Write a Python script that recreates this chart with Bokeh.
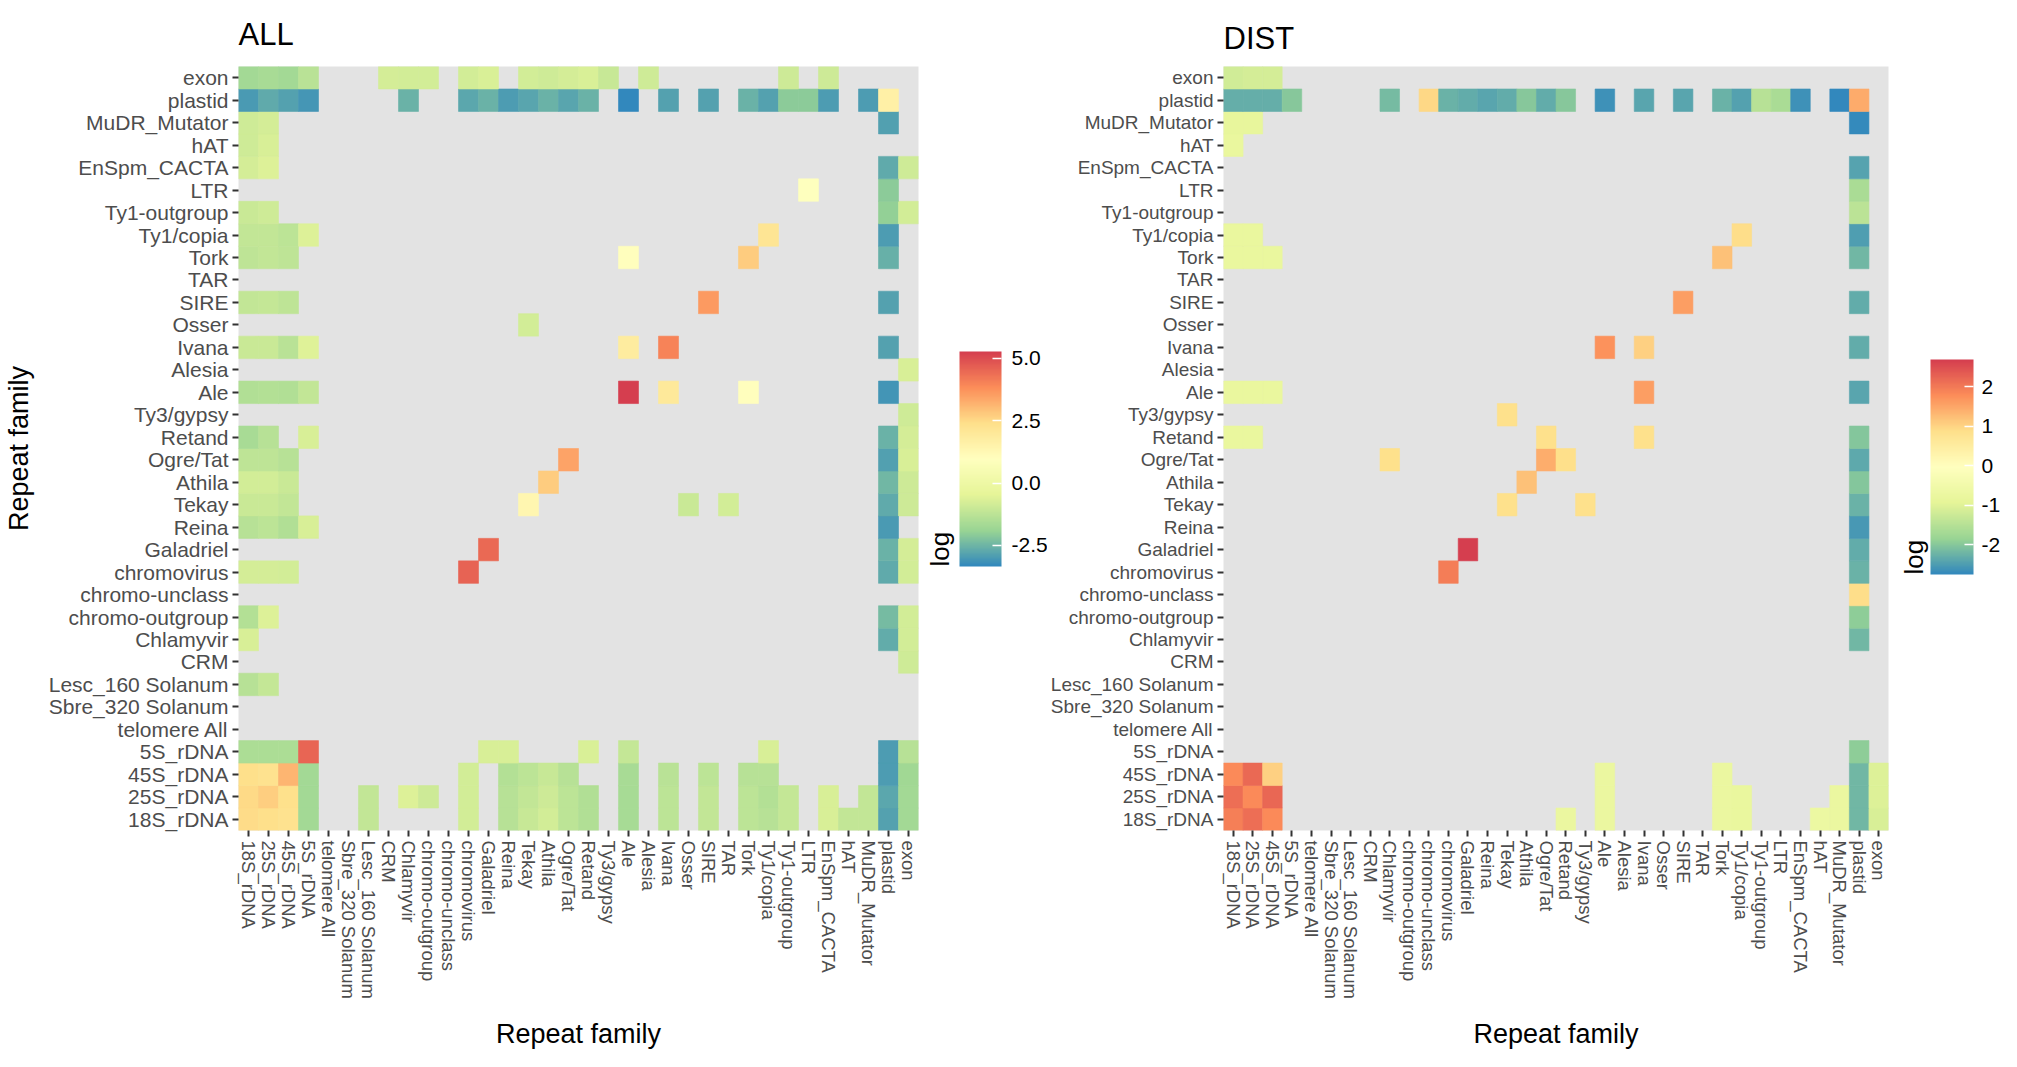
from bokeh.plotting import figure
from bokeh.models import (FactorRange, LinearColorMapper, ColorBar, FixedTicker,
                          PrintfTickFormatter, ColumnDataSource)
from bokeh.layouts import row
from bokeh.transform import transform
from bokeh.embed import file_html
from bokeh.resources import INLINE

# ---------------- data ----------------
families = ["18S_rDNA", "25S_rDNA", "45S_rDNA", "5S_rDNA", "telomere All",
            "Sbre_320 Solanum", "Lesc_160 Solanum", "CRM", "Chlamyvir",
            "chromo-outgroup", "chromo-unclass", "chromovirus", "Galadriel",
            "Reina", "Tekay", "Athila", "Ogre/Tat", "Retand", "Ty3/gypsy", "Ale",
            "Alesia", "Ivana", "Osser", "SIRE", "TAR", "Tork", "Ty1/copia",
            "Ty1-outgroup", "LTR", "EnSpm_CACTA", "hAT", "MuDR_Mutator",
            "plastid", "exon"]

# ALL panel: for each row (family index, bottom to top) the filled columns and log values
all_cols = [
    [0, 1, 2, 3, 6, 11, 13, 14, 15, 16, 17, 19, 21, 23, 25, 26, 27, 29, 30, 31, 32, 33],
    [0, 1, 2, 3, 6, 8, 9, 11, 13, 14, 15, 16, 17, 19, 21, 23, 25, 26, 27, 29, 31, 32, 33],
    [0, 1, 2, 3, 11, 13, 14, 15, 16, 19, 21, 23, 25, 26, 32, 33],
    [0, 1, 2, 3, 12, 13, 17, 19, 26, 32, 33],
    [],
    [],
    [0, 1],
    [33],
    [0, 32, 33],
    [0, 1, 32, 33],
    [],
    [0, 1, 2, 11, 32, 33],
    [12, 32, 33],
    [0, 1, 2, 3, 32],
    [0, 1, 2, 14, 22, 24, 32, 33],
    [0, 1, 2, 15, 32, 33],
    [0, 1, 2, 16, 32, 33],
    [0, 1, 3, 32, 33],
    [33],
    [0, 1, 2, 3, 19, 21, 25, 32],
    [33],
    [0, 1, 2, 3, 19, 21, 32],
    [14],
    [0, 1, 2, 23, 32],
    [],
    [0, 1, 2, 19, 25, 32],
    [0, 1, 2, 3, 26, 32],
    [0, 1, 32, 33],
    [28, 32],
    [0, 1, 32, 33],
    [0, 1],
    [0, 1, 32],
    [0, 1, 2, 3, 8, 11, 12, 13, 14, 15, 16, 17, 19, 21, 23, 25, 26, 27, 28, 29, 31, 32],
    [0, 1, 2, 3, 7, 8, 9, 11, 12, 14, 15, 16, 17, 18, 20, 27, 29],
]
all_log = [
    [2.45, 2.4, 2.3, -1.7, -1.15, -0.85, -1.35, -1.05, -0.85, -1.25, -1.45, -1.65, -1.25, -1.15, -1.25, -1.35, -1.1, -0.75, -1.15, -1.15, -2.85, -1.7],
    [2.5, 2.7, 2.35, -1.7, -1.15, -0.65, -0.95, -0.85, -1.35, -1.15, -0.95, -1.25, -1.45, -1.65, -1.25, -1.15, -1.25, -1.4, -1.1, -0.75, -1.15, -2.75, -1.7],
    [2.4, 2.3, 3.15, -1.7, -0.85, -1.4, -1.25, -1.05, -1.35, -1.6, -1.3, -1.25, -1.35, -1.35, -2.95, -1.75],
    [-1.55, -1.55, -1.55, 4.55, -0.75, -0.75, -0.7, -1.1, -0.75, -2.95, -1.35],
    [],
    [],
    [-1.35, -1.1],
    [-0.9],
    [-0.75, -2.65, -0.85],
    [-1.4, -0.65, -2.4, -0.85],
    [],
    [-0.8, -0.8, -0.85, 4.6, -2.7, -0.85],
    [4.5, -2.55, -0.8],
    [-1.35, -1.25, -1.45, -0.75, -3.0],
    [-1.0, -1.0, -1.15, 1.4, -1.0, -0.85, -2.7, -0.95],
    [-0.85, -0.85, -1.0, 2.75, -2.45, -0.95],
    [-1.2, -1.2, -1.35, 3.45, -2.9, -0.75],
    [-1.6, -1.35, -0.75, -2.55, -0.8],
    [-0.9],
    [-1.45, -1.4, -1.45, -1.15, 5.28, 2.0, 1.0, -3.1],
    [-0.75],
    [-1.0, -1.0, -1.3, -0.6, 1.85, 4.0, -2.85],
    [-0.85],
    [-1.15, -1.1, -1.2, 3.6, -2.85],
    [],
    [-1.2, -1.15, -1.2, 1.0, 2.75, -2.6],
    [-1.15, -1.15, -1.25, -0.65, 2.15, -2.95],
    [-1.0, -0.9, -2.0, -0.85],
    [0.9, -2.1],
    [-0.8, -0.65, -2.7, -0.9],
    [-0.9, -0.75],
    [-0.9, -0.8, -2.9],
    [-3.0, -2.7, -2.85, -3.05, -2.55, -2.75, -2.55, -2.95, -2.8, -2.55, -2.8, -2.55, -3.35, -2.85, -2.85, -2.55, -2.85, -2.1, -2.1, -2.95, -2.95, 1.65],
    [-1.7, -1.6, -1.7, -1.3, -0.8, -0.85, -0.85, -0.85, -0.7, -0.85, -0.9, -0.8, -0.7, -1.05, -0.9, -0.95, -0.95],
]

# DIST panel
dist_cols = [
    [0, 1, 2, 17, 19, 25, 26, 30, 31, 32, 33],
    [0, 1, 2, 19, 25, 26, 31, 32, 33],
    [0, 1, 2, 19, 25, 32, 33],
    [32],
    [],
    [],
    [],
    [],
    [32],
    [32],
    [32],
    [11, 32],
    [12, 32],
    [32],
    [14, 18, 32],
    [15, 32],
    [8, 16, 17, 32],
    [0, 1, 16, 21, 32],
    [14],
    [0, 1, 2, 21, 32],
    [],
    [19, 21, 32],
    [],
    [23, 32],
    [],
    [0, 1, 2, 25, 32],
    [0, 1, 26, 32],
    [32],
    [32],
    [32],
    [0],
    [0, 1, 32],
    [0, 1, 2, 3, 8, 10, 11, 12, 13, 14, 15, 16, 17, 19, 21, 23, 25, 26, 27, 28, 29, 31, 32],
    [0, 1, 2],
]
dist_log = [
    [1.94, 2.13, 1.8, -0.75, -0.75, -0.75, -0.8, -0.7, -0.75, -2.2, -1.1],
    [2.13, 1.8, 2.22, -0.75, -0.75, -0.8, -0.75, -2.2, -1.05],
    [1.8, 2.18, 1.05, -0.75, -0.75, -2.2, -1.05],
    [-1.95],
    [],
    [],
    [],
    [],
    [-2.2],
    [-1.95],
    [0.9],
    [1.95, -2.27],
    [2.69, -2.33],
    [-2.55],
    [0.85, 0.85, -2.27],
    [1.2, -2.03],
    [0.85, 1.42, 0.88, -2.37],
    [-0.8, -0.8, 0.85, 0.85, -2.03],
    [0.85],
    [-0.8, -0.8, -0.8, 1.6, -2.41],
    [],
    [1.72, 1.05, -2.33],
    [],
    [1.6, -2.33],
    [],
    [-0.8, -0.8, -0.8, 1.2, -2.2],
    [-0.8, -0.8, 0.9, -2.5],
    [-1.45],
    [-1.65],
    [-2.42],
    [-0.8],
    [-0.85, -0.85, -2.72],
    [-2.3, -2.3, -2.3, -2.0, -2.15, 0.95, -2.27, -2.33, -2.4, -2.33, -2.0, -2.33, -2.0, -2.65, -2.4, -2.4, -2.25, -2.45, -1.5, -1.65, -2.65, -2.76, 1.45],
    [-1.2, -1.15, -1.15],
]

all_ticks = [-2.5, 0.0, 2.5, 5.0]
dist_ticks = [-2, -1, 0, 1, 2]

# ---------------- styling ----------------
FONT = "Liberation Sans"
NA_GREY = "#E3E3E3"
spectral = ["#3288BD", "#99D594", "#E6F598", "#FFFFBF", "#FEE08B", "#FC8D59", "#D53E4F"]


def lerp_palette(anchors, n=256):
    rgb = [tuple(int(c[i:i + 2], 16) for i in (1, 3, 5)) for c in anchors]
    out = []
    for k in range(n):
        t = k / (n - 1) * (len(rgb) - 1)
        i = min(int(t), len(rgb) - 2)
        f = t - i
        out.append("#%02x%02x%02x" % tuple(
            int(round(rgb[i][j] + (rgb[i + 1][j] - rgb[i][j]) * f)) for j in range(3)))
    return out


PALETTE = lerp_palette(spectral)


def flatten(cols, vals):
    xs, ys, vs = [], [], []
    assert len(cols) == len(families) and len(vals) == len(families)
    for r, (cc, vv) in enumerate(zip(cols, vals)):
        assert len(cc) == len(vv), (families[r], len(cc), len(vv))
        for c, v in zip(cc, vv):
            xs.append(families[c])
            ys.append(families[r])
            vs.append(v)
    return xs, ys, vs


def make_panel(title, cols, vals, ticks, fmt, width, height, b_left, b_right, b_top,
               b_bottom, title_standoff, ylab_size, show_ytitle, cb):
    xs, ys, vs = flatten(cols, vals)
    mapper = LinearColorMapper(palette=PALETTE, low=min(vs), high=max(vs))
    p = figure(width=width, height=height, output_backend="svg", toolbar_location=None,
               x_range=FactorRange(factors=families), y_range=FactorRange(factors=families),
               min_border_left=b_left, min_border_right=b_right,
               min_border_top=b_top, min_border_bottom=b_bottom)
    p.background_fill_color = NA_GREY
    p.border_fill_color = "white"
    p.outline_line_color = None
    p.grid.grid_line_color = None

    src = ColumnDataSource(dict(x=xs, y=ys, v=vs))
    p.rect(x="x", y="y", width=1, height=1, source=src,
           fill_color=transform("v", mapper), line_color=transform("v", mapper),
           line_width=0.6)

    p.title.text = title
    p.title.text_font = FONT
    p.title.text_font_size = "31px"
    p.title.text_font_style = "normal"
    p.title.text_color = "black"
    p.title.align = "left"
    p.title.standoff = title_standoff

    for ax in (p.xaxis[0], p.yaxis[0]):
        ax.axis_line_color = None
        ax.major_tick_line_color = "#333333"
        ax.major_tick_line_width = 2
        ax.major_tick_out = 6
        ax.major_tick_in = 0
        ax.minor_tick_line_color = None
        ax.major_label_text_font = FONT
        ax.major_label_text_color = "#4D4D4D"
        ax.major_label_standoff = 4
        ax.axis_label_text_font = FONT
        ax.axis_label_text_font_size = "27px"
        ax.axis_label_text_font_style = "normal"
        ax.axis_label_text_color = "black"

    p.xaxis.major_label_orientation = "vertical"
    p.xaxis.major_label_text_font_size = "18.5px"
    p.xaxis.axis_label = "Repeat family"
    p.xaxis.axis_label_standoff = 17

    p.yaxis.major_label_text_font_size = ylab_size
    if show_ytitle:
        p.yaxis.axis_label = "Repeat family"
        p.yaxis.axis_label_standoff = 12

    cb_x, cb_y, cb_w, cb_h, cb_std, cb_tstd = cb
    bar = ColorBar(color_mapper=mapper, ticker=FixedTicker(ticks=ticks),
                   formatter=PrintfTickFormatter(format=fmt),
                   orientation="vertical",
                   title="log", title_text_font=FONT, title_text_font_size="26px",
                   title_text_font_style="normal", title_text_color="black",
                   title_standoff=cb_tstd,
                   width=cb_w, height=cb_h, location=(cb_x, cb_y),
                   major_label_text_font=FONT, major_label_text_font_size="21px",
                   major_label_text_color="black", label_standoff=cb_std,
                   major_tick_line_color="white", major_tick_line_width=1.5,
                   major_tick_in=9, major_tick_out=0, minor_tick_line_color=None,
                   bar_line_color=None, border_line_color=None,
                   background_fill_color=None, padding=0, margin=0)
    p.add_layout(bar, "center")
    return p


left = make_panel("ALL", all_cols, all_log, all_ticks, "%.1f",
                  width=1047, height=1051, b_left=238, b_right=129, b_top=47,
                  b_bottom=216, title_standoff=29, ylab_size="21px", show_ytitle=True,
                  cb=(679, 264, 42, 215, 10, 10))
right = make_panel("DIST", dist_cols, dist_log, dist_ticks, "%d",
                   width=954, height=1051, b_left=150, b_right=113, b_top=58,
                   b_bottom=216, title_standoff=22, ylab_size="19px", show_ytitle=False,
                   cb=(671, 256, 43, 215, 8, 4))

layout = row(left, right, spacing=0)
open("out.html", "w").write(file_html(layout, INLINE))
